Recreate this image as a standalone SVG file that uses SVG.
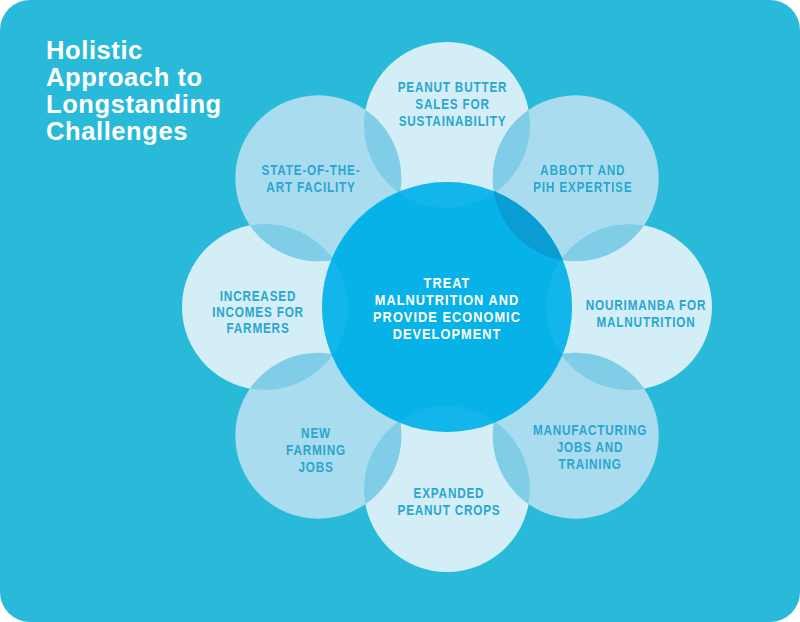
<svg xmlns="http://www.w3.org/2000/svg" width="800" height="622" viewBox="0 0 800 622">
<style>
.lbl{font-family:"Liberation Sans",Arial,sans-serif;font-weight:bold;font-size:14.5px;letter-spacing:1px;fill:#2aa6cf;text-anchor:middle}
.ctr{fill:#ffffff;letter-spacing:1.2px}
.title{font-family:"Liberation Sans",Arial,sans-serif;font-weight:bold;font-size:25.5px;letter-spacing:0.6px;fill:#ffffff}
.pa{fill:#d4eef8}
.pd{fill:#aadcef}
.ov{fill:#7fcde6}
</style>
<defs>
<clipPath id="cT"><circle cx="447" cy="125" r="83"/></clipPath>
<clipPath id="cTR"><circle cx="575.7" cy="178.3" r="83"/></clipPath>
<clipPath id="cR"><circle cx="629" cy="307" r="83"/></clipPath>
<clipPath id="cBR"><circle cx="575.7" cy="435.7" r="83"/></clipPath>
<clipPath id="cB"><circle cx="447" cy="489" r="83"/></clipPath>
<clipPath id="cBL"><circle cx="318.3" cy="435.7" r="83"/></clipPath>
<clipPath id="cL"><circle cx="265" cy="307" r="83"/></clipPath>
<clipPath id="cTL"><circle cx="318.3" cy="178.3" r="83"/></clipPath>
</defs>
<rect x="0" y="0" width="800" height="622" rx="30" fill="#29bad9"/>
<g id="title">
<text class="title" x="46" y="59">Holistic</text>
<text class="title" x="46" y="86">Approach to</text>
<text class="title" x="46" y="113">Longstanding</text>
<text class="title" x="46" y="140">Challenges</text>
</g>
<g id="petals">
<g id="p-peanut"><circle class="pa" cx="447" cy="125" r="83"/></g>
<g id="p-abbott"><circle class="pd" cx="575.7" cy="178.3" r="83"/></g>
<g id="p-nourimanba"><circle class="pa" cx="629" cy="307" r="83"/></g>
<g id="p-manufacturing"><circle class="pd" cx="575.7" cy="435.7" r="83"/></g>
<g id="p-expanded"><circle class="pa" cx="447" cy="489" r="83"/></g>
<g id="p-newfarming"><circle class="pd" cx="318.3" cy="435.7" r="83"/></g>
<g id="p-incomes"><circle class="pa" cx="265" cy="307" r="83"/></g>
<g id="p-facility"><circle class="pd" cx="318.3" cy="178.3" r="83"/></g>
</g>
<g id="overlaps">
<circle class="ov" cx="575.7" cy="178.3" r="83" clip-path="url(#cT)"/>
<circle class="ov" cx="575.7" cy="178.3" r="83" clip-path="url(#cR)"/>
<circle class="ov" cx="575.7" cy="435.7" r="83" clip-path="url(#cR)"/>
<circle class="ov" cx="575.7" cy="435.7" r="83" clip-path="url(#cB)"/>
<circle class="ov" cx="318.3" cy="435.7" r="83" clip-path="url(#cB)"/>
<circle class="ov" cx="318.3" cy="435.7" r="83" clip-path="url(#cL)"/>
<circle class="ov" cx="318.3" cy="178.3" r="83" clip-path="url(#cL)"/>
<circle class="ov" cx="318.3" cy="178.3" r="83" clip-path="url(#cT)"/>
</g>
<g id="center">
<circle cx="447" cy="307" r="125" fill="#07b2e9"/>
<g opacity="0.35">
<circle cx="447" cy="307" r="125" fill="#28bdee" clip-path="url(#cT)"/>
<circle cx="447" cy="307" r="125" fill="#28bdee" clip-path="url(#cR)"/>
<circle cx="447" cy="307" r="125" fill="#28bdee" clip-path="url(#cB)"/>
<circle cx="447" cy="307" r="125" fill="#28bdee" clip-path="url(#cL)"/>
</g>
<circle cx="447" cy="307" r="125" fill="#0a9dd4" clip-path="url(#cTR)"/>
<g transform="translate(447,0) scale(0.88,1)">
<text class="lbl ctr" x="0" y="288">TREAT</text>
<text class="lbl ctr" x="0" y="305">MALNUTRITION AND</text>
<text class="lbl ctr" x="0" y="322">PROVIDE ECONOMIC</text>
<text class="lbl ctr" x="0" y="339">DEVELOPMENT</text>
</g>
</g>
<g id="labels">
<g transform="translate(452.5,0) scale(0.81,1)">
<text class="lbl" x="0" y="92">PEANUT BUTTER</text>
<text class="lbl" x="0" y="109">SALES FOR</text>
<text class="lbl" x="0" y="126">SUSTAINABILITY</text>
</g>
<g transform="translate(311,0) scale(0.81,1)">
<text class="lbl" x="0" y="175">STATE-OF-THE-</text>
<text class="lbl" x="0" y="192">ART FACILITY</text>
</g>
<g transform="translate(583,0) scale(0.81,1)">
<text class="lbl" x="0" y="175">ABBOTT AND</text>
<text class="lbl" x="0" y="192">PIH EXPERTISE</text>
</g>
<g transform="translate(258,0) scale(0.81,1)">
<text class="lbl" x="0" y="301">INCREASED</text>
<text class="lbl" x="0" y="317">INCOMES FOR</text>
<text class="lbl" x="0" y="333">FARMERS</text>
</g>
<g transform="translate(646,0) scale(0.81,1)">
<text class="lbl" x="0" y="310">NOURIMANBA FOR</text>
<text class="lbl" x="0" y="327">MALNUTRITION</text>
</g>
<g transform="translate(316,0) scale(0.81,1)">
<text class="lbl" x="0" y="438">NEW</text>
<text class="lbl" x="0" y="455">FARMING</text>
<text class="lbl" x="0" y="472">JOBS</text>
</g>
<g transform="translate(590,0) scale(0.81,1)">
<text class="lbl" x="0" y="435">MANUFACTURING</text>
<text class="lbl" x="0" y="452">JOBS AND</text>
<text class="lbl" x="0" y="469">TRAINING</text>
</g>
<g transform="translate(449,0) scale(0.81,1)">
<text class="lbl" x="0" y="498">EXPANDED</text>
<text class="lbl" x="0" y="515">PEANUT CROPS</text>
</g>
</g>
</svg>
